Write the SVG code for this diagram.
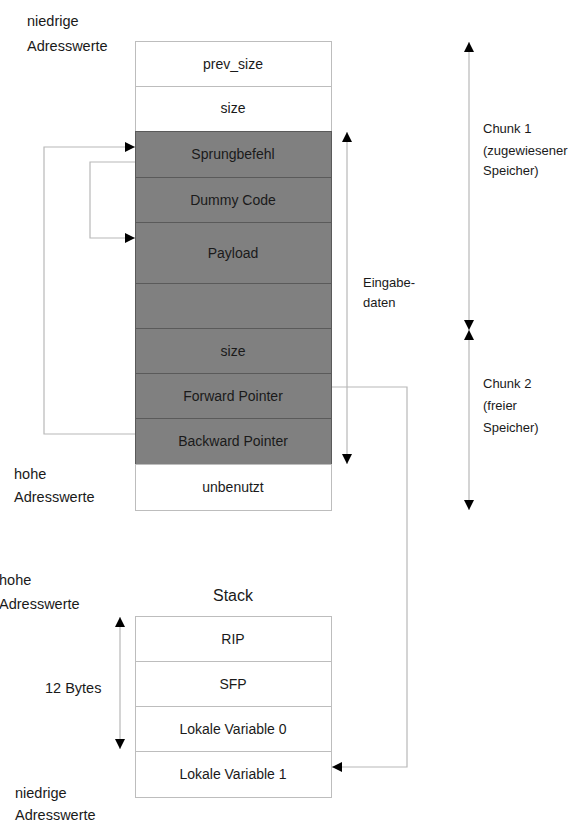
<svg xmlns="http://www.w3.org/2000/svg" width="586" height="823" viewBox="0 0 586 823">
<defs>
<marker id="ah" viewBox="0 0 10 10" refX="10" refY="5" markerWidth="10" markerHeight="10" markerUnits="userSpaceOnUse" orient="auto-start-reverse">
<path d="M0,0 L10,5 L0,10 z" fill="#000"/>
</marker>
<style>
.t{font-family:"Liberation Sans",Arial,sans-serif;fill:#1a1a1a}
.lbl{font-size:14px;text-anchor:middle}
.side{font-size:14.5px}
.ch{font-size:13px}
.w{fill:#fff;stroke:#bdbdbd;stroke-width:1}
.d{fill:#808080;stroke:#5a5a5a;stroke-width:1}
.c{fill:none;stroke:#b8b8b8;stroke-width:1.2}
</style>
</defs>
<rect width="586" height="823" fill="#fff"/>

<g id="heap">
<g id="prev_size"><rect class="w" x="135.5" y="41.5" width="196" height="45"/><text class="t lbl" x="233" y="68.5">prev_size</text></g>
<g id="size1"><rect class="w" x="135.5" y="86.5" width="196" height="45"/><text class="t lbl" x="233" y="113">size</text></g>
<g id="sprungbefehl"><rect class="d" x="135.5" y="131.5" width="196" height="46"/><text class="t lbl" x="233" y="159">Sprungbefehl</text></g>
<g id="dummy"><rect class="d" x="135.5" y="177.5" width="196" height="45"/><text class="t lbl" x="233" y="204.5">Dummy Code</text></g>
<g id="payload"><rect class="d" x="135.5" y="222.5" width="196" height="61"/><text class="t lbl" x="233" y="257.5">Payload</text></g>
<g id="blank"><rect class="d" x="135.5" y="283.5" width="196" height="45"/></g>
<g id="size2"><rect class="d" x="135.5" y="328.5" width="196" height="45"/><text class="t lbl" x="233" y="356">size</text></g>
<g id="fwd"><rect class="d" x="135.5" y="373.5" width="196" height="45"/><text class="t lbl" x="233" y="401">Forward Pointer</text></g>
<g id="bwd"><rect class="d" x="135.5" y="418.5" width="196" height="46"/><text class="t lbl" x="233" y="445.5">Backward Pointer</text></g>
<g id="unbenutzt"><rect class="w" x="135.5" y="464.5" width="196" height="46"/><text class="t lbl" x="233" y="492">unbenutzt</text></g>
</g>

<g id="stack">
<text class="t" x="233" y="601" font-size="16" text-anchor="middle">Stack</text>
<g id="rip"><rect class="w" x="135.5" y="616.5" width="196" height="45"/><text class="t lbl" x="233" y="643.5">RIP</text></g>
<g id="sfp"><rect class="w" x="135.5" y="661.5" width="196" height="45"/><text class="t lbl" x="233" y="688.5">SFP</text></g>
<g id="lv0"><rect class="w" x="135.5" y="706.5" width="196" height="45"/><text class="t lbl" x="233" y="733.5">Lokale Variable 0</text></g>
<g id="lv1"><rect class="w" x="135.5" y="751.5" width="196" height="46"/><text class="t lbl" x="233" y="779">Lokale Variable 1</text></g>
</g>

<g id="labels">
<text class="t side" x="27" y="26">niedrige</text>
<text class="t side" x="27" y="51">Adresswerte</text>
<text class="t side" x="14" y="479">hohe</text>
<text class="t side" x="14" y="502">Adresswerte</text>
<text class="t side" x="-1" y="585">hohe</text>
<text class="t side" x="-1" y="609">Adresswerte</text>
<text class="t side" x="15" y="798">niedrige</text>
<text class="t side" x="15" y="820">Adresswerte</text>
<text class="t side" x="45" y="693">12 Bytes</text>
<text class="t ch" x="363" y="287">Eingabe-</text>
<text class="t ch" x="363" y="307">daten</text>
<text class="t ch" x="483" y="133">Chunk 1</text>
<text class="t ch" x="483" y="155">(zugewiesener</text>
<text class="t ch" x="483" y="175">Speicher)</text>
<text class="t ch" x="483" y="388">Chunk 2</text>
<text class="t ch" x="483" y="410">(freier</text>
<text class="t ch" x="483" y="432">Speicher)</text>
</g>

<g id="connectors">
<path class="c" d="M135,434 H44 V147 H135" marker-end="url(#ah)"/>
<path class="c" d="M135,162 H90 V238 H135" marker-end="url(#ah)"/>
<path class="c" d="M332,387 H407 V767 H332" marker-end="url(#ah)"/>
<path class="c" d="M347,132 V464" marker-start="url(#ah)" marker-end="url(#ah)"/>
<path class="c" d="M469,42 V330" marker-start="url(#ah)" marker-end="url(#ah)"/>
<path class="c" d="M469,330 V510" marker-start="url(#ah)" marker-end="url(#ah)"/>
<path class="c" d="M120,617 V749" marker-start="url(#ah)" marker-end="url(#ah)"/>
</g>
</svg>
